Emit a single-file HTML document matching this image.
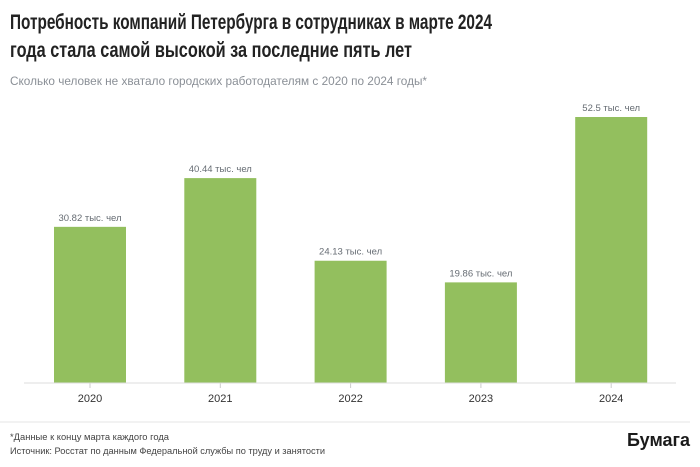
<!DOCTYPE html>
<html><head><meta charset="utf-8"><style>
html,body{margin:0;padding:0;background:#fff;}
svg{display:block;font-family:"Liberation Sans",sans-serif;}
</style></head><body>
<svg id="chart" width="700" height="467" viewBox="0 0 700 467">
<text x="10" y="29" font-size="21" font-weight="bold" fill="#222" textLength="482" lengthAdjust="spacingAndGlyphs">Потребность компаний Петербурга в сотрудниках в марте 2024</text>
<text x="10" y="57" font-size="21" font-weight="bold" fill="#222" textLength="402" lengthAdjust="spacingAndGlyphs">года стала самой высокой за последние пять лет</text>
<text x="10" y="85" font-size="12" fill="#8a8f96" textLength="417" lengthAdjust="spacingAndGlyphs">Сколько человек не хватало городских работодателям с 2020 по 2024 годы*</text>
<g id="bars"></g>
<line x1="24" y1="383" x2="676" y2="383" stroke="#ddd" stroke-width="1"/>
<line x1="0" y1="422" x2="690" y2="422" stroke="#e6e6e6" stroke-width="1"/>
<text x="10" y="440" font-size="9" fill="#444" textLength="159" lengthAdjust="spacingAndGlyphs">*Данные к концу марта каждого года</text>
<text x="10" y="454" font-size="9" fill="#444" textLength="315" lengthAdjust="spacingAndGlyphs">Источник: Росстат по данным Федеральной службы по труду и занятости</text>
<text x="690" y="446" font-size="18" font-weight="bold" fill="#1a1a1a" text-anchor="end" textLength="63" lengthAdjust="spacingAndGlyphs">Бумага</text>
</svg>
<script>
const categories = ["2020","2021","2022","2023","2024"];
const values = [30.82, 40.44, 24.13, 19.86, 52.5];
const valueLabels = ["30.82 тыс. чел","40.44 тыс. чел","24.13 тыс. чел","19.86 тыс. чел","52.5 тыс. чел"];

const NS = "http://www.w3.org/2000/svg";
const baseY = 383, pxPerUnit = 266 / 52.5;
const x0 = 90, step = 130.3, barW = 72;
function xScale(i){ return x0 + i * step; }
function yScale(v){ return baseY - v * pxPerUnit; }
const g = document.getElementById("bars");
categories.forEach((c, i) => {
  const cx = xScale(i), top = yScale(values[i]);
  const r = document.createElementNS(NS, "rect");
  r.setAttribute("x", cx - barW/2); r.setAttribute("y", top);
  r.setAttribute("width", barW); r.setAttribute("height", baseY - top);
  r.setAttribute("fill", "#93bf5e");
  
  
  g.appendChild(r);
  const t = document.createElementNS(NS, "text");
  t.setAttribute("x", cx); t.setAttribute("y", top - 6);
  t.setAttribute("font-size", "9.5"); t.setAttribute("fill", "#666c73");
  t.setAttribute("text-anchor", "middle");
  t.textContent = valueLabels[i];
  
  
  g.appendChild(t);
  const tk = document.createElementNS(NS, "line");
  tk.setAttribute("x1", cx); tk.setAttribute("x2", cx);
  tk.setAttribute("y1", baseY); tk.setAttribute("y2", baseY + 5);
  tk.setAttribute("stroke", "#ccc");
  
  
  g.appendChild(tk);
  const yl = document.createElementNS(NS, "text");
  yl.setAttribute("x", cx); yl.setAttribute("y", 402);
  yl.setAttribute("font-size", "11"); yl.setAttribute("fill", "#333");
  yl.setAttribute("text-anchor", "middle");
  yl.textContent = c;
  
  
  g.appendChild(yl);
});
</script>
</body></html>
